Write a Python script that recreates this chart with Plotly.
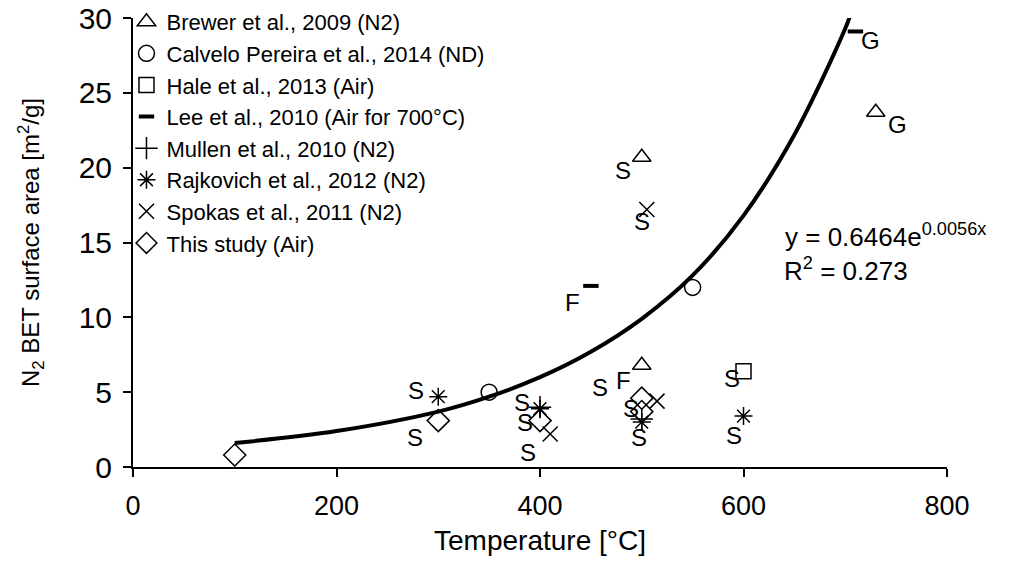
import plotly.graph_objects as go

# ---------------- data ----------------
brewer_T = [500, 500, 730]
brewer_A = [20.7, 6.8, 23.7]

calvelo_T = [350, 550]
calvelo_A = [5.0, 12.0]

hale_T = [600]
hale_A = [6.4]

lee_T = [450, 710]
lee_A = [12.1, 29.1]

mullen_T = [400, 500]
mullen_A = [4.0, 3.2]

rajkovich_T = [300, 400, 500, 600]
rajkovich_A = [4.7, 3.9, 3.0, 3.4]

spokas_T = [505, 410, 515]
spokas_A = [17.2, 2.2, 4.4]

study_T = [100, 300, 400, 500, 500]
study_A = [0.8, 3.1, 3.1, 4.6, 3.7]

# trendline
trend_T = [100, 200, 300, 350, 400, 450, 500, 550, 600, 650, 700, 705]
trend_A = [1.6, 2.4, 3.7, 4.7, 6.0, 7.7, 9.9, 12.8, 16.8, 22.2, 29.3, 30.2]

# feedstock labels (text, T, area)
label_text = ["S", "S", "S", "S", "S", "S", "F", "S", "S", "S", "S", "F", "S", "S", "G", "G"]
label_T = [278, 277, 382, 385, 388, 459, 482, 489, 497, 482, 500, 432, 589, 591, 725, 751]
label_A = [5.1, 2.0, 4.3, 3.0, 1.0, 5.3, 5.8, 3.9, 2.0, 19.8, 16.4, 11.0, 5.9, 2.1, 28.5, 22.9]

legend_names = [
    "Brewer et al., 2009 (N2)",
    "Calvelo Pereira et al., 2014 (ND)",
    "Hale et al., 2013 (Air)",
    "Lee et al., 2010 (Air for 700°C)",
    "Mullen et al., 2010 (N2)",
    "Rajkovich et al., 2012 (N2)",
    "Spokas et al., 2011 (N2)",
    "This study (Air)",
]

x_ticks = [0, 200, 400, 600, 800]
y_ticks = [0, 5, 10, 15, 20, 25, 30]

FONT = "Liberation Sans, Arial, Helvetica, sans-serif"

fig = go.Figure()

series = [
    (brewer_T, brewer_A, "triangle-up-open", 16, 1.5),
    (calvelo_T, calvelo_A, "circle-open", 16, 1.5),
    (hale_T, hale_A, "square-open", 15, 1.5),
    (lee_T, lee_A, "line-ew-open", 11, 4),
    (mullen_T, mullen_A, "cross-thin-open", 16, 1.5),
    (rajkovich_T, rajkovich_A, "asterisk-open", 15, 1.5),
    (spokas_T, spokas_A, "x-thin-open", 15, 1.5),
    (study_T, study_A, "diamond-open", 17, 1.5),
]

for i, (xs, ys, sym, sz, lw) in enumerate(series):
    fig.add_trace(go.Scatter(
        x=xs, y=ys, mode="markers", name=legend_names[i],
        legendgroup=f"g{i}",
        marker=dict(symbol=sym, size=sz, color="black",
                    line=dict(color="black", width=lw)),
    ))

fig.add_trace(go.Scatter(
    x=trend_T, y=trend_A, mode="lines", line=dict(color="black", width=4, shape="spline"),
    showlegend=False, hoverinfo="skip",
))

for t, tx, ty in zip(label_text, label_T, label_A):
    fig.add_annotation(x=tx, y=ty, xref="x", yref="y", text=t, showarrow=False,
                       font=dict(family=FONT, size=24, color="black"))

fig.add_annotation(x=639, y=15.5, xref="x", yref="y", xanchor="left",
                   text="y = 0.6464e<sup>0.0056x</sup>", showarrow=False,
                   font=dict(family=FONT, size=26, color="black"))
fig.add_annotation(x=638, y=13.2, xref="x", yref="y", xanchor="left",
                   text="R<sup>2</sup> = 0.273", showarrow=False,
                   font=dict(family=FONT, size=26, color="black"))

fig.update_layout(
    width=1021, height=561,
    paper_bgcolor="white", plot_bgcolor="white",
    margin=dict(l=125, r=82, t=10, b=102, autoexpand=False),
    font=dict(family=FONT, size=20, color="black"),
    showlegend=True,
    legend=dict(x=-0.008, y=1.038, xanchor="left", yanchor="top",
                bgcolor="rgba(0,0,0,0)", font=dict(family=FONT, size=22),
                tracegroupgap=0, itemwidth=30),
    xaxis=dict(range=[0, 800], tickvals=x_ticks, showgrid=False, zeroline=False,
               showline=True, linecolor="black", linewidth=2,
               ticks="outside", ticklen=8, tickwidth=1.5, tickcolor="black",
               ticklabelstandoff=6, ticklabeloverflow="allow",
               title=dict(text="Temperature [°C]", font=dict(family=FONT, size=28), standoff=10),
               tickfont=dict(size=27)),
    yaxis=dict(range=[0, 30], tickvals=y_ticks, showgrid=False, zeroline=False,
               showline=True, linecolor="black", linewidth=2,
               ticks="outside", ticklen=8, tickwidth=1.5, tickcolor="black",
               ticklabelstandoff=5, ticklabeloverflow="allow",
               title=dict(text="N<sub>2</sub> BET surface area [m<sup>2</sup>/g]",
                          font=dict(family=FONT, size=24), standoff=32),
               tickfont=dict(size=30)),
)

fig.write_html("out.html")
